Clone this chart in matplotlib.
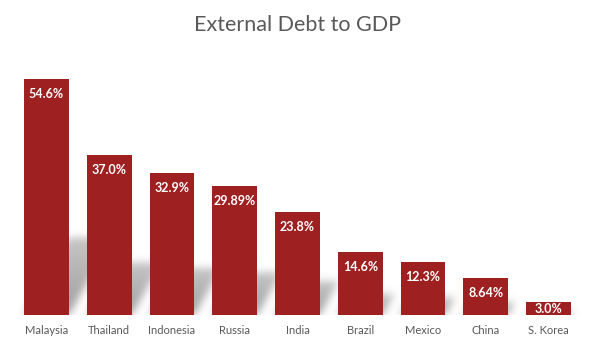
import numpy as np
import matplotlib.pyplot as plt

countries = ["Malaysia", "Thailand", "Indonesia", "Russia", "India",
             "Brazil", "Mexico", "China", "S. Korea"]
values = [54.6, 37.0, 32.9, 29.89, 23.8, 14.6, 12.3, 8.64, 3.0]
labels = ["54.6%", "37.0%", "32.9%", "29.89%", "23.8%",
          "14.6%", "12.3%", "8.64%", "3.0%"]

plt.rcParams['font.family'] = ['Lato', 'DejaVu Sans']

bar_color = "#9e2021"
text_gray = "#595959"

fig = plt.figure(figsize=(5.95, 3.46), dpi=100)
ax = fig.add_axes([15 / 595, 31 / 346, 565 / 595, 259 / 346])

x = np.arange(len(values))
width = 0.715
ymax = 60
px_per_unit = 259 / ymax

# soft shadow behind the bars, blurred parallelograms leaning up-right
nx, ny = 700, 320
gx = np.linspace(-0.5, 8.5, nx)
gy = np.linspace(0, ymax, ny)
XX, YY = np.meshgrid(gx, gy)
mask = np.zeros_like(XX)
for xi, h in zip(x, values):
    t = 0.33 * h
    d = 0.013 * h
    u = XX - d * (YY / t)
    inside = (YY <= t) & (u >= xi - width / 2) & (u <= xi + width / 2)
    fade = 1 - 0.4 * (YY / t)
    mask = np.maximum(mask, np.where(inside, fade, 0))

def blur(a, sigma):
    r = int(3 * sigma)
    k = np.exp(-0.5 * (np.arange(-r, r + 1) / sigma) ** 2)
    k /= k.sum()
    a = np.apply_along_axis(lambda m: np.convolve(m, k, mode="same"), 0, a)
    a = np.apply_along_axis(lambda m: np.convolve(m, k, mode="same"), 1, a)
    return a

mask = blur(mask, 5)
rgba = np.zeros((ny, nx, 4))
rgba[..., :3] = 0.5
rgba[..., 3] = np.clip(0.75 * mask, 0, 1)
ax.imshow(rgba, extent=(-0.5, 8.5, 0, ymax), origin="lower",
          aspect="auto", zorder=1, interpolation="bilinear")

ax.bar(x, values, width=width, color=bar_color, zorder=2)

for xi, v, lab in zip(x, values, labels):
    off_px = min(15, v * px_per_unit / 2)
    ax.annotate(lab, (xi, v), xytext=(0, -off_px * 0.72),
                textcoords="offset points", ha="center", va="center",
                color="white", fontsize=9, fontweight="bold", zorder=3)

ax.set_xlim(-0.5, 8.5)
ax.set_ylim(0, ymax)
ax.set_xticks(x)
ax.set_xticklabels(countries, color=text_gray, fontsize=8)
ax.tick_params(axis="x", length=0, pad=7)
ax.set_yticks([])
for s in ax.spines.values():
    s.set_visible(False)

fig.text(0.5, 1 - 25 / 346, "External Debt to GDP", ha="center", va="center",
         fontsize=15.5, color=text_gray)

fig.savefig("out.png", dpi=100)
